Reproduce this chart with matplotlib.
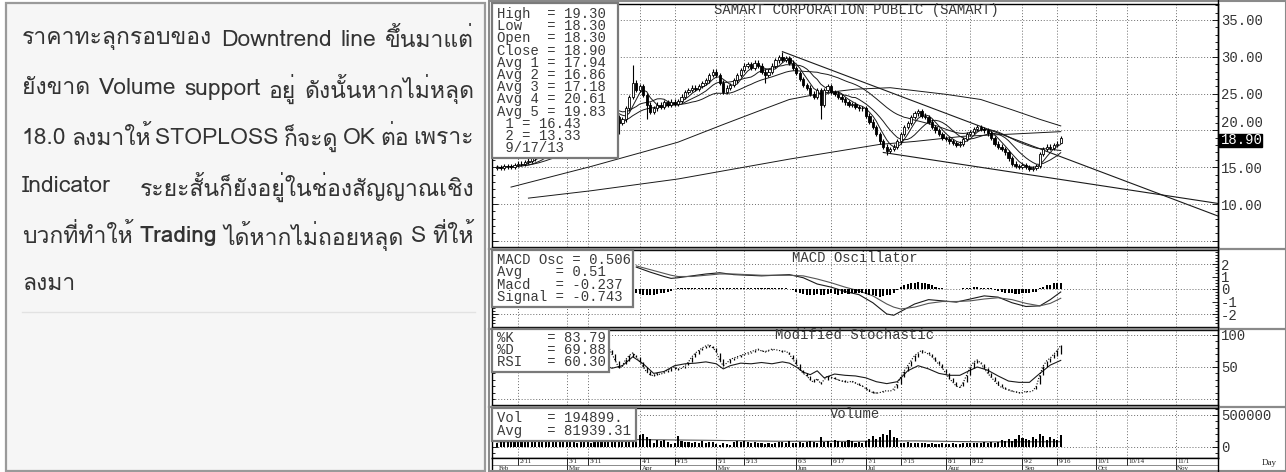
import numpy as np
import pandas as pd
import matplotlib
matplotlib.use("Agg")
import matplotlib.pyplot as plt
from matplotlib import font_manager
from matplotlib.ft2font import FT2Font
from matplotlib.patches import Rectangle
from matplotlib.lines import Line2D
from matplotlib.ticker import MultipleLocator

W, H = 1286, 472
MONO = "Liberation Mono"

# ---------------- data (trading-day index 0 = 2013-02-01) ----------------
opens = [
    14.9, 15.0, 14.9, 15.1, 15.2, 15.0, 15.3, 15.5, 15.4, 15.7,
    15.9, 16.2, 16.6, 17.0, 17.5, 18.0, 18.4, 18.9, 19.5, 20.0,
    20.4, 20.9, 21.3, 21.8, 22.2, 22.0, 22.5, 23.0, 22.6, 23.2,
    23.5, 23.0, 22.6, 23.5, 22.5, 21.8, 21.0, 21.5, 23.0, 24.5,
    26.5, 25.5, 26.0, 24.8, 23.5, 22.5, 23.0, 23.5, 23.2, 23.8,
    23.5, 23.9, 23.6, 24.0, 24.6, 25.2, 25.5, 25.8, 25.6, 26.0,
    26.4, 26.8, 27.5, 28.0, 27.5, 26.5, 25.2, 25.8, 26.2, 26.8,
    27.5, 28.2, 28.8, 29.0, 28.5, 29.2, 28.8, 28.0, 27.5, 28.0,
    28.8, 29.5, 30.0, 29.6, 29.8, 29.2, 28.5, 27.8, 27.0, 26.2,
    25.8, 25.0, 24.5, 25.5, 23.5, 25.5, 26.0, 25.2, 25.0, 24.6,
    24.2, 23.8, 23.5, 23.6, 23.2, 23.0, 23.0, 22.0, 21.2, 20.5,
    19.5, 18.5, 17.8, 17.2, 17.5, 17.8, 18.5, 19.5, 20.5, 21.0,
    21.8, 22.3, 22.6, 22.0, 21.8, 21.2, 20.5, 20.0, 19.5, 19.0,
    18.8, 18.5, 18.3, 18.0, 18.2, 18.8, 19.5, 19.8, 20.2, 20.5,
    20.2, 20.0, 19.6, 19.0, 18.2, 17.8, 17.5, 17.0, 16.2, 15.5,
    15.2, 15.0, 15.3, 15.0, 14.8, 14.9, 15.2, 16.8, 17.5, 17.8,
    17.6, 18.0, 18.3,
]
highs = [
    15.3, 15.3, 15.4, 15.5, 15.5, 15.6, 15.8, 15.8, 16.0, 16.2,
    16.5, 16.9, 17.3, 17.8, 18.3, 18.7, 19.2, 19.8, 20.3, 20.7,
    21.2, 21.6, 22.1, 22.5, 22.5, 22.8, 23.3, 23.3, 23.5, 23.8,
    23.8, 23.3, 23.8, 23.8, 22.8, 22.1, 21.8, 23.3, 24.8, 28.9,
    26.8, 26.3, 26.3, 25.1, 23.8, 23.3, 23.8, 23.8, 24.1, 24.1,
    24.2, 24.2, 24.3, 24.9, 25.5, 25.8, 26.1, 26.1, 26.3, 26.7,
    27.1, 27.8, 28.3, 28.3, 27.8, 26.8, 26.1, 26.5, 27.1, 27.8,
    28.5, 29.1, 29.3, 29.3, 29.5, 29.5, 29.1, 28.3, 28.3, 29.1,
    29.8, 30.3, 30.7, 30.1, 30.1, 29.5, 28.8, 28.1, 27.3, 26.5,
    26.1, 25.3, 25.8, 25.8, 25.8, 26.3, 26.3, 25.5, 25.3, 24.9,
    24.5, 24.1, 23.9, 23.9, 23.5, 23.3, 23.3, 22.3, 21.5, 20.8,
    19.8, 18.8, 18.1, 17.8, 18.1, 18.8, 19.8, 20.8, 21.3, 22.1,
    22.6, 22.9, 22.9, 22.3, 22.1, 21.5, 20.8, 20.3, 19.8, 19.3,
    19.1, 18.8, 18.6, 18.5, 19.1, 19.8, 20.1, 20.5, 20.8, 20.8,
    20.5, 20.3, 19.9, 19.3, 18.5, 18.1, 17.8, 17.3, 16.5, 15.8,
    15.5, 15.6, 15.6, 15.3, 15.2, 15.5, 17.1, 17.8, 18.1, 18.1,
    18.3, 18.5, 19.3,
]
lows = [
    14.6, 14.6, 14.6, 14.8, 14.7, 14.7, 15.0, 15.1, 15.1, 15.4,
    15.6, 15.9, 16.3, 16.7, 17.2, 17.7, 18.1, 18.6, 19.2, 19.7,
    20.1, 20.6, 21.0, 21.5, 21.7, 21.7, 22.2, 22.3, 22.3, 22.9,
    22.7, 22.3, 22.3, 22.2, 21.5, 19.5, 20.7, 21.2, 22.7, 24.2,
    25.2, 25.2, 24.5, 21.5, 22.2, 22.2, 22.7, 22.9, 22.9, 23.2,
    23.2, 23.3, 23.3, 23.7, 24.3, 24.9, 25.2, 25.3, 25.3, 25.7,
    26.1, 26.5, 27.2, 27.2, 26.2, 24.9, 24.9, 25.5, 25.9, 26.5,
    27.2, 27.9, 28.5, 28.2, 28.2, 28.5, 27.7, 26.5, 27.2, 27.7,
    28.5, 29.2, 29.3, 29.3, 28.9, 28.2, 27.5, 26.7, 25.9, 25.5,
    24.7, 24.2, 24.2, 21.5, 23.2, 25.2, 24.9, 24.7, 24.3, 23.9,
    23.5, 23.2, 23.2, 22.9, 22.7, 22.7, 21.7, 20.9, 20.2, 19.2,
    18.2, 17.5, 16.6, 16.9, 17.2, 17.5, 18.2, 19.2, 20.2, 20.7,
    21.5, 22.0, 21.7, 21.5, 20.9, 20.2, 19.7, 19.2, 18.7, 18.5,
    18.2, 18.0, 17.7, 17.7, 17.9, 18.5, 19.2, 19.5, 19.9, 19.9,
    19.7, 19.3, 18.7, 17.9, 17.5, 17.2, 16.7, 15.9, 15.2, 14.9,
    14.7, 14.7, 14.7, 14.5, 14.5, 14.6, 14.9, 16.5, 17.2, 17.3,
    17.3, 17.7, 18.3,
]
closes = [
    15.0, 14.9, 15.1, 15.2, 15.0, 15.3, 15.5, 15.4, 15.7, 15.9,
    16.2, 16.6, 17.0, 17.5, 18.0, 18.4, 18.9, 19.5, 20.0, 20.4,
    20.9, 21.3, 21.8, 22.2, 22.0, 22.5, 23.0, 22.6, 23.2, 23.5,
    23.0, 22.6, 23.5, 22.5, 21.8, 21.0, 21.5, 23.0, 24.5, 26.5,
    25.5, 26.0, 24.8, 23.5, 22.5, 23.0, 23.5, 23.2, 23.8, 23.5,
    23.9, 23.6, 24.0, 24.6, 25.2, 25.5, 25.8, 25.6, 26.0, 26.4,
    26.8, 27.5, 28.0, 27.5, 26.5, 25.2, 25.8, 26.2, 26.8, 27.5,
    28.2, 28.8, 29.0, 28.5, 29.2, 28.8, 28.0, 27.5, 28.0, 28.8,
    29.5, 30.0, 29.6, 29.8, 29.2, 28.5, 27.8, 27.0, 26.2, 25.8,
    25.0, 24.5, 25.5, 23.5, 25.5, 26.0, 25.2, 25.0, 24.6, 24.2,
    23.8, 23.5, 23.6, 23.2, 23.0, 23.0, 22.0, 21.2, 20.5, 19.5,
    18.5, 17.8, 17.2, 17.5, 17.8, 18.5, 19.5, 20.5, 21.0, 21.8,
    22.3, 22.6, 22.0, 21.8, 21.2, 20.5, 20.0, 19.5, 19.0, 18.8,
    18.5, 18.3, 18.0, 18.2, 18.8, 19.5, 19.8, 20.2, 20.5, 20.2,
    20.0, 19.6, 19.0, 18.2, 17.8, 17.5, 17.0, 16.2, 15.5, 15.2,
    15.0, 15.3, 15.0, 14.8, 14.9, 15.2, 16.8, 17.5, 17.8, 17.6,
    18.0, 18.2, 18.9,
]
# volume in thousands of shares
volume_k = [
    70, 85, 75, 90, 80, 72, 88, 95, 78, 82,
    90, 100, 85, 95, 110, 120, 105, 98, 115, 130,
    110, 95, 88, 60, 75, 90, 85, 70, 95, 80,
    88, 92, 75, 95, 105, 120, 90, 150, 210, 300,
    230, 180, 200, 150, 120, 60, 110, 90, 115, 80,
    40, 60, 170, 95, 80, 85, 70, 75, 60, 90,
    70, 85, 80, 50, 30, 55, 45, 35, 80, 90,
    75, 95, 85, 70, 80, 60, 55, 50, 70, 45,
    60, 75, 80, 55, 90, 65, 70, 85, 60, 80,
    95, 75, 70, 160, 85, 90, 70, 110, 95, 80,
    75, 105, 90, 70, 85, 60, 100, 130, 170, 120,
    150, 210, 180, 265, 160, 140, 70, 65, 75, 60,
    70, 55, 65, 60, 50, 55, 40, 45, 60, 50,
    45, 55, 40, 50, 60, 70, 55, 65, 60, 70,
    75, 60, 80, 70, 85, 110, 90, 120, 100, 130,
    180, 140, 120, 110, 160, 130, 200, 170, 110, 150,
    120, 110, 195,
]
vol_avg_idx = [0, 20, 40, 60, 80, 100, 120, 140, 162]
vol_avg_k = [80, 95, 115, 105, 90, 88, 95, 80, 82]

# long moving averages (index, value)
avg4_idx = [4, 27, 43, 52, 65, 75, 84, 94, 103, 113, 120, 129, 139, 148, 156, 162]
avg4_val = [12.3, 15.1, 17.2, 18.4, 20.8, 22.6, 24.2, 25.1, 25.6, 25.8, 25.4, 24.9, 24.2, 22.8, 21.5, 20.61]
avg5_idx = [9, 27, 52, 65, 84, 110, 120, 134, 148, 162]
avg5_val = [10.8, 11.8, 13.4, 14.5, 16.1, 18.1, 18.5, 19.2, 19.5, 19.83]

# trend lines: anchor points (index, price)
trend1_idx = [82, 162]
trend1_val = [30.7, 16.43]
trend2_idx = [111, 162]
trend2_val = [17.0, 13.33]

# MACD lines
macd_idx = [40, 44, 48, 50, 52, 56, 60, 64, 68, 72, 76, 80, 84, 88, 92, 96, 100,
            104, 108, 112, 114, 116, 120, 124, 128, 132, 136, 140, 144, 148, 152,
            156, 159, 162]
macd_val = [1.75, 1.35, 1.0, 0.85, 0.9, 1.05, 1.2, 1.3, 1.15, 1.1, 1.05, 1.1, 1.15,
            0.9, 0.4, 0.15, -0.2, -0.45, -1.1, -2.0, -2.1, -1.8, -1.2, -0.85, -0.95,
            -1.05, -0.8, -0.55, -0.65, -1.1, -1.4, -1.35, -0.85, -0.237]
signal_val = [1.85, 1.55, 1.25, 1.1, 1.0, 1.0, 1.1, 1.2, 1.2, 1.15, 1.1, 1.1, 1.1,
              1.05, 0.8, 0.5, 0.15, -0.15, -0.55, -1.2, -1.45, -1.6, -1.45, -1.15,
              -1.0, -1.0, -0.95, -0.8, -0.7, -0.85, -1.15, -1.35, -1.15, -0.743]
osc_start = 40
macd_osc = [
    -0.3, -0.4, -0.5, -0.5, -0.45, -0.5, -0.4, -0.35, -0.3, -0.25,
    -0.15, 0.0, 0.05, 0.1, 0.1, 0.12, 0.1, 0.1, 0.12, 0.1,
    0.1, 0.12, 0.1, 0.08, 0.05, 0.05, 0.08, 0.1, 0.1, 0.12,
    0.1, 0.1, 0.08, 0.1, 0.1, 0.05, 0.05, 0.08, 0.1, 0.1,
    0.1, 0.12, 0.1, 0.08, 0.0, -0.1, -0.2, -0.3, -0.4, -0.45,
    -0.5, -0.45, -0.4, -0.5, -0.45, -0.4, -0.35, -0.4, -0.45, -0.4,
    -0.35, -0.4, -0.3, -0.35, -0.3, -0.35, -0.4, -0.45, -0.5, -0.55,
    -0.6, -0.55, -0.5, -0.45, -0.3, -0.1, 0.15, 0.3, 0.4, 0.45,
    0.5, 0.55, 0.5, 0.45, 0.4, 0.3, 0.15, 0.1, 0.05, 0.0,
    0.0, -0.02, 0.0, 0.02, 0.05, 0.1, 0.12, 0.15, 0.15, 0.12,
    0.1, 0.08, 0.05, -0.05, -0.15, -0.25, -0.3, -0.35, -0.35, -0.4,
    -0.4, -0.35, -0.3, -0.3, -0.25, -0.2, 0.05, 0.2, 0.3, 0.35,
    0.45, 0.5, 0.506,
]

# modified stochastic (%K, %D daily from index 30) and RSI
stoch_start = 30
pct_k = [
    75, 80, 82, 70, 60, 48, 52, 62, 68, 72,
    66, 58, 50, 42, 38, 36, 40, 38, 42, 45,
    48, 50, 46, 48, 52, 58, 66, 72, 76, 80,
    83, 85, 80, 74, 60, 52, 56, 62, 64, 66,
    68, 70, 72, 74, 76, 78, 75, 74, 76, 78,
    77, 76, 74, 75, 70, 62, 54, 46, 40, 36,
    30, 26, 32, 24, 30, 36, 34, 32, 30, 28,
    27, 26, 28, 25, 22, 20, 16, 12, 10, 9,
    10, 12, 13, 12, 16, 24, 34, 44, 52, 60,
    68, 72, 76, 73, 70, 66, 60, 54, 48, 40,
    32, 26, 20, 18, 26, 38, 50, 58, 61, 56,
    48, 40, 34, 28, 22, 18, 16, 14, 12, 11,
    10, 10, 12, 11, 13, 20, 38, 52, 60, 64,
    70, 76, 83.79,
]
pct_d = [
    70, 75, 78, 76, 70, 60, 53, 54, 60, 66,
    68, 65, 58, 50, 44, 39, 38, 38, 40, 42,
    44, 47, 48, 48, 49, 53, 58, 65, 71, 76,
    79, 82, 83, 80, 72, 62, 56, 57, 61, 64,
    66, 68, 70, 72, 74, 76, 76, 75, 75, 76,
    77, 77, 76, 75, 73, 69, 62, 54, 46, 41,
    36, 31, 29, 27, 29, 30, 33, 34, 32, 30,
    29, 27, 27, 26, 25, 22, 19, 16, 13, 11,
    10, 11, 12, 12, 14, 17, 24, 34, 43, 52,
    60, 66, 72, 74, 73, 70, 65, 60, 54, 47,
    40, 33, 26, 21, 21, 27, 38, 49, 56, 58,
    55, 48, 41, 34, 28, 23, 19, 16, 14, 12,
    11, 10, 11, 11, 12, 15, 24, 37, 50, 58,
    64, 67, 69.88,
]
rsi_idx = [30, 33, 36, 39, 42, 45, 48, 51, 54, 57, 60, 63, 65, 67, 70, 73, 76, 79,
           82, 84, 86, 88, 90, 92, 94, 97, 100, 103, 106, 109, 112, 115, 118, 121,
           124, 127, 130, 133, 136, 138, 141, 144, 147, 150, 153, 156, 159, 162]
rsi_val = [55, 48, 52, 66, 55, 40, 43, 52, 55, 56, 58, 55, 47, 52, 56, 55, 57, 55,
           58, 56, 50, 42, 38, 44, 33, 39, 37, 36, 33, 27, 24, 27, 44, 52,
           47, 40, 37, 37, 45, 50, 45, 36, 28, 26, 26, 40, 53, 60.3]

# date axis
tick_dates = ["2013-02-11", "2013-03-01", "2013-03-11", "2013-04-01", "2013-04-15",
              "2013-05-01", "2013-05-13", "2013-06-03", "2013-06-17", "2013-07-01",
              "2013-07-15", "2013-08-01", "2013-08-12", "2013-09-02", "2013-09-16",
              "2013-10-01", "2013-10-14", "2013-11-01"]
tick_labels = ["2/11", "3/1", "3/11", "4/1", "4/15", "5/1", "5/13", "6/3", "6/17",
               "7/1", "7/15", "8/1", "8/12", "9/2", "9/16", "10/1", "10/14", "11/1"]
month_dates = ["2013-02-01", "2013-03-01", "2013-04-01", "2013-05-01", "2013-06-03",
               "2013-07-01", "2013-08-01", "2013-09-02", "2013-10-01", "2013-11-01"]
month_labels = ["Feb", "Mar", "Apr", "May", "Jun", "Jul", "Aug", "Sep", "Oct", "Nov"]

thai_lines = [
    "ราคาทะลุกรอบของ Downtrend line ขึ้นมาแต่",
    "ยังขาด Volume support อยู่ ดังนั้นหากไม่หลุด",
    "18.0 ลงมาให้ STOPLOSS ก็จะดู OK ต่อ เพราะ",
    "Indicator ระยะสั้นก็ยังอยู่ในช่องสัญญาณเชิง",
    "บวกที่ทำให้ Trading ได้หากไม่ถอยหลุด S ที่ให้",
    "ลงมา",
]

# ---------------- helpers ----------------
days = pd.bdate_range("2013-02-01", "2013-11-29")
tick_pos = [days.get_loc(pd.Timestamp(d)) for d in tick_dates]
month_pos = [days.get_loc(pd.Timestamp(d)) for d in month_dates]
n = len(closes)
idx = np.arange(n)
XLIM = (-1.47, 207.2)


def fx(x):
    return x / W


def fy(y):
    return 1 - y / H


def thai_fonts():
    found = []
    for f in font_manager.fontManager.ttflist:
        try:
            cm = FT2Font(f.fname).get_charmap()
        except Exception:
            continue
        if 0x0E01 in cm and 0x0E49 in cm and f.name not in found:
            found.append(f.name)
    return found


fig = plt.figure(figsize=(W / 100, H / 100), dpi=100, facecolor="white")


def add_ax(x0, y0, x1, y1):
    a = fig.add_axes([x0 / W, 1 - y1 / H, (x1 - x0) / W, (y1 - y0) / H])
    a.set_xlim(*XLIM)
    for s in a.spines.values():
        s.set_linewidth(1.0)
    return a


def grid(a, yvals):
    for v in yvals:
        a.axhline(v, color="#6a6a6a", lw=0.7, ls=(0, (1, 2)), zorder=0)
    for p in tick_pos:
        a.axvline(p, color="#6a6a6a", lw=0.7, ls=(0, (1, 2)), zorder=0)


def yaxis(a, ticks, labels, minor):
    a.set_xticks([])
    a.set_yticks(ticks)
    a.set_yticklabels(labels)
    a.yaxis.set_minor_locator(MultipleLocator(minor))
    a.tick_params(axis="y", which="both", direction="in", left=True, right=True,
                  labelleft=False, labelright=True, width=0.6, pad=2)
    a.tick_params(axis="y", which="major", length=4)
    a.tick_params(axis="y", which="minor", length=2)
    for lab in a.get_yticklabels():
        lab.set_family(MONO)
        lab.set_fontsize(10)
        lab.set_color("#333333")


def legend_box(x0, y0, x1, y1, lines, ytop, step):
    fig.add_artist(Rectangle((fx(x0), fy(y1)), (x1 - x0) / W, (y1 - y0) / H,
                             transform=fig.transFigure, facecolor="white",
                             edgecolor="#7a7a7a", lw=1.6, zorder=5))
    for k, s in enumerate(lines):
        fig.text(fx(497), fy(ytop + step * k), s, family=MONO, fontsize=10,
                 color="#3a3a3a", va="center", ha="left", zorder=6)


# ---------------- left text panel ----------------
fig.add_artist(Rectangle((fx(6), fy(471)), 479 / W, 468 / H, transform=fig.transFigure,
                         facecolor="#f6f6f6", edgecolor="#9a9a9a", lw=1.6, zorder=1))
fig.add_artist(Line2D([fx(22), fx(475)], [fy(312), fy(312)], color="#e2e2e2", lw=1))

tf = thai_fonts()
pref = ["Tahoma", "Loma", "Garuda", "Noto Sans Thai", "Noto Sans Thai Looped",
        "Sarabun", "TH Sarabun New", "Norasi", "Kinnari", "Waree", "Umpush", "Sawasdee"]
thai = next((p for p in pref if p in tf), tf[0] if tf else "DejaVu Sans")
tfam = [thai, "DejaVu Sans"]

fig.canvas.draw()
renderer = fig.canvas.get_renderer()
for k, line in enumerate(thai_lines):
    words = line.split()
    y = fy(40 + 49 * k)
    texts = []
    for w in words:
        wt = "bold" if w == "Trading" else "normal"
        t = fig.text(0, y, w, family=tfam, fontsize=16.5, color="#333333",
                     va="center", ha="left", fontweight=wt, zorder=3)
        texts.append(t)
    widths = [t.get_window_extent(renderer).width for t in texts]
    x_left, x_right = 22, 474
    if k < len(thai_lines) - 1 and len(texts) > 1:
        gap = (x_right - x_left - sum(widths)) / (len(texts) - 1)
    else:
        gap = 6
    x = x_left
    for t, wdt in zip(texts, widths):
        t.set_x(fx(x))
        x += wdt + gap

# ---------------- chart frame ----------------
fig.add_artist(Rectangle((fx(489), fy(471)), 797 / W, 470 / H, transform=fig.transFigure,
                         facecolor="none", edgecolor="#8a8a8a", lw=1.5, zorder=1))
for yb in (248.6, 328.6, 406.6):
    fig.add_artist(Line2D([fx(489), fx(1286)], [fy(yb), fy(yb)], color="#8a8a8a", lw=1.6))

# ---------------- price panel ----------------
axp = add_ax(492, 4, 1218, 247)
axp.set_ylim(4.16, 37.17)
grid(axp, [5, 10, 15, 20, 25, 30, 35])
o = np.array(opens)
c = np.array(closes)
hi = np.array(highs)
lo = np.array(lows)
axp.vlines(idx, lo, hi, color="black", lw=0.8, zorder=3)
up = c >= o
body = np.maximum(np.abs(c - o), 0.1)
bot = np.minimum(o, c)
axp.bar(idx[up], body[up], bottom=bot[up], width=0.66, facecolor="white",
        edgecolor="black", lw=0.6, zorder=4)
axp.bar(idx[~up], body[~up], bottom=bot[~up], width=0.66, facecolor="black",
        edgecolor="black", lw=0.6, zorder=4)
cs = pd.Series(closes)
for win in (5, 10, 25):
    axp.plot(idx, cs.rolling(win, min_periods=1).mean(), color="#1a1a1a", lw=0.7, zorder=2)
axp.plot(avg4_idx, avg4_val, color="#1a1a1a", lw=0.7, zorder=2)
axp.plot(avg5_idx, avg5_val, color="#1a1a1a", lw=0.7, zorder=2)
for ti, tv in ((trend1_idx, trend1_val), (trend2_idx, trend2_val)):
    slope = (tv[1] - tv[0]) / (ti[1] - ti[0])
    xe = XLIM[1]
    axp.plot([ti[0], xe], [tv[0], tv[0] + slope * (xe - ti[0])], color="#1a1a1a",
             lw=0.8, zorder=2)
yaxis(axp, [5, 10, 15, 20, 25, 30, 35], ["", "10.00", "15.00", "20.00", "25.00",
                                          "30.00", "35.00"], 1)
# the 20.00 label sits just above the last-price flag
axp.get_yticklabels()[3].set_va("bottom")

# ---------------- MACD panel ----------------
axm = add_ax(492, 250, 1218, 327)
axm.set_ylim(-3.04, 3.12)
grid(axm, [-2, 0, 2])
osc_x = np.arange(osc_start, osc_start + len(macd_osc))
axm.bar(osc_x, macd_osc, width=0.6, color="black", zorder=3)
axm.plot(macd_idx, macd_val, color="#1a1a1a", lw=0.8, zorder=2)
axm.plot(macd_idx, signal_val, color="#555555", lw=0.8, zorder=2)
yaxis(axm, [-2, -1, 0, 1, 2], ["-2", "-1", "0", "1", "2"], 0.25)

# ---------------- stochastic panel ----------------
axs = add_ax(492, 330, 1218, 405)
axs.set_ylim(-9.4, 107.8)
grid(axs, [0, 50, 100])
st_x = np.arange(stoch_start, stoch_start + len(pct_k))
axs.vlines(st_x, pct_d, pct_k, color="black", lw=0.9, zorder=3)
axs.plot(st_x, pct_k, color="black", lw=0.8, ls=(0, (1, 1.5)), zorder=3)
axs.plot(rsi_idx, rsi_val, color="#1a1a1a", lw=0.8, zorder=2)
yaxis(axs, [50, 100], ["50", "100"], 10)

# ---------------- volume panel ----------------
axv = add_ax(492, 408, 1218, 458)
axv.set_ylim(-172000, 609000)
grid(axv, [0, 500000])
vol = np.array(volume_k) * 1000
axv.bar(idx, vol, width=0.6, color="black", zorder=3)
axv.plot(vol_avg_idx, np.array(vol_avg_k) * 1000, color="#555555", lw=0.8, zorder=2)
yaxis(axv, [0, 500000], ["0", "500000"], 100000)

# ---------------- date strip ----------------
axd = add_ax(492, 458, 1218, 472)
axd.set_ylim(0, 1)
axd.set_xticks([])
axd.set_yticks([])
axd.spines["bottom"].set_visible(False)
axd.spines["right"].set_visible(False)
axd.axhline(0.5, color="#777777", lw=0.6)
axd.vlines(tick_pos, 0.5, 1, color="black", lw=0.6)
axd.vlines(month_pos[1:], 0, 0.5, color="black", lw=0.6)
for p, lab in zip(tick_pos, tick_labels):
    axd.text(p + 0.5, 0.76, lab, family="Liberation Serif", fontsize=5,
             va="center", ha="left", color="#222222")
for p, lab in zip(month_pos, month_labels):
    axd.text(p + 0.5, 0.27, lab, family="Liberation Serif", fontsize=5,
             va="center", ha="left", color="#222222")
fig.text(fx(1262), fy(463), "Day", family="Liberation Serif", fontsize=6.5,
         color="#222222", va="center")
fig.add_artist(Line2D([fx(1218), fx(1218)], [fy(0), fy(472)], color="black", lw=1.0))

# ---------------- titles, legends, last-price flag ----------------
for s, x, y in (("SAMART CORPORATION PUBLIC (SAMART)", 714, 10),
                ("MACD Oscillator", 792, 258), ("Modified Stochastic", 775, 335),
                ("Volume", 830, 414)):
    fig.text(fx(x), fy(y), s, family=MONO, fontsize=10, color="#3a3a3a",
             va="center", ha="left", zorder=6)

legend_box(492, 3, 618, 158,
           ["High  = 19.30", "Low   = 18.30", "Open  = 18.30", "Close = 18.90",
            "Avg 1 = 17.94", "Avg 2 = 16.86", "Avg 3 = 17.18", "Avg 4 = 20.61",
            "Avg 5 = 19.83", " 1 = 16.43", " 2 = 13.33", " 9/17/13"], 14, 12.2)
legend_box(492, 250, 633, 307,
           ["MACD Osc = 0.506", "Avg    = 0.51", "Macd   = -0.237", "Signal = -0.743"],
           260, 12.4)
legend_box(492, 329, 609, 372, ["%K    = 83.79", "%D    = 69.88", "RSI   = 60.30"],
           338, 12.2)
legend_box(492, 408, 636, 441, ["Vol   = 194899.", "Avg   = 81939.31"], 418, 12.6)

fig.add_artist(Rectangle((fx(1219), fy(147)), 43 / W, 13 / H, transform=fig.transFigure,
                         facecolor="black", edgecolor="black", zorder=7))
fig.text(fx(1221), fy(140.5), "18.90", family=MONO, fontsize=10, color="white",
         va="center", ha="left", zorder=8)

fig.savefig("out.png", dpi=100, facecolor="white")
